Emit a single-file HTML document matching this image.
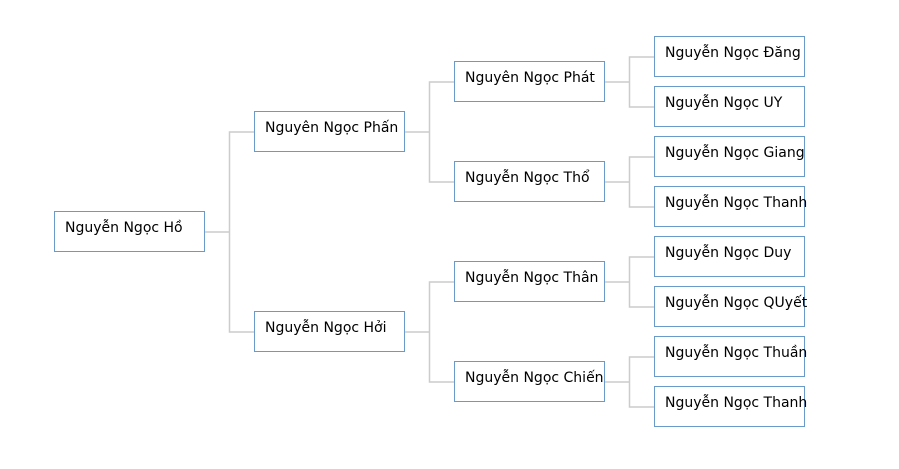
<!DOCTYPE html>
<html><head><meta charset="utf-8"><style>
html,body{margin:0;padding:0;background:#fff;width:899px;height:469px;overflow:hidden}
svg text{font-family:"DejaVu Sans","Liberation Sans",sans-serif;font-size:14px;fill:#000}
</style></head><body>
<svg width="899" height="469" viewBox="0 0 899 469">
<g stroke="#cccccc" stroke-width="1.5" fill="none">
<path d="M204.5 232H229.5V132H254.5M229.5 232V332H254.5"/>
<path d="M404.5 132H429.5V82H454.5M429.5 132V182H454.5"/>
<path d="M404.5 332H429.5V282H454.5M429.5 332V382H454.5"/>
<path d="M604.5 82H629.5V57H654.5M629.5 82V107H654.5"/>
<path d="M604.5 182H629.5V157H654.5M629.5 182V207H654.5"/>
<path d="M604.5 282H629.5V257H654.5M629.5 282V307H654.5"/>
<path d="M604.5 382H629.5V357H654.5M629.5 382V407H654.5"/>
</g>
<g stroke="#6a9ac9" stroke-width="1" fill="#fff">
<rect x="54.5" y="211.5" width="150" height="40"/>
<rect x="254.5" y="111.5" width="150" height="40"/>
<rect x="254.5" y="311.5" width="150" height="40"/>
<rect x="454.5" y="61.5" width="150" height="40"/>
<rect x="454.5" y="161.5" width="150" height="40"/>
<rect x="454.5" y="261.5" width="150" height="40"/>
<rect x="454.5" y="361.5" width="150" height="40"/>
<rect x="654.5" y="36.5" width="150" height="40"/>
<rect x="654.5" y="86.5" width="150" height="40"/>
<rect x="654.5" y="136.5" width="150" height="40"/>
<rect x="654.5" y="186.5" width="150" height="40"/>
<rect x="654.5" y="236.5" width="150" height="40"/>
<rect x="654.5" y="286.5" width="150" height="40"/>
<rect x="654.5" y="336.5" width="150" height="40"/>
<rect x="654.5" y="386.5" width="150" height="40"/>
</g>
<text x="65" y="232">Nguyễn Ngọc Hồ</text>
<text x="265" y="132">Nguyên Ngọc Phấn</text>
<text x="265" y="332">Nguyễn Ngọc Hởi</text>
<text x="465" y="82">Nguyên Ngọc Phát</text>
<text x="465" y="182">Nguyễn Ngọc Thổ</text>
<text x="465" y="282">Nguyễn Ngọc Thân</text>
<text x="465" y="382">Nguyễn Ngọc Chiến</text>
<text x="665" y="57">Nguyễn Ngọc Đăng</text>
<text x="665" y="107">Nguyễn Ngọc UY</text>
<text x="665" y="157">Nguyễn Ngọc Giang</text>
<text x="665" y="207">Nguyễn Ngọc Thanh</text>
<text x="665" y="257">Nguyễn Ngọc Duy</text>
<text x="665" y="307">Nguyễn Ngọc QUyết</text>
<text x="665" y="357">Nguyễn Ngọc Thuần</text>
<text x="665" y="407">Nguyễn Ngọc Thanh</text>
</svg>
</body></html>
